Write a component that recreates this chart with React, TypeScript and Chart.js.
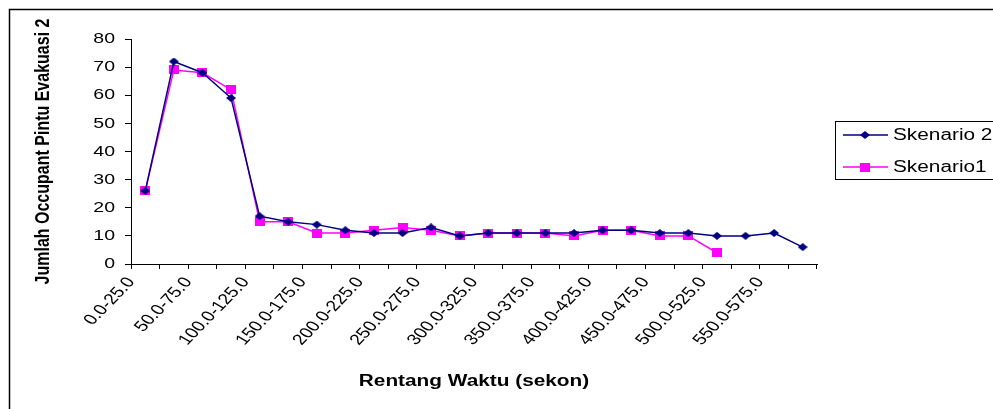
import React, { useEffect, useRef } from "react";
import { Chart, registerables } from "chart.js";

Chart.register(...registerables);

// Time ranges (seconds)
const categories = [
  "0.0-25.0", "25.0-50.0", "50.0-75.0", "75.0-100.0", "100.0-125.0", "125.0-150.0",
  "150.0-175.0", "175.0-200.0", "200.0-225.0", "225.0-250.0", "250.0-275.0", "275.0-300.0",
  "300.0-325.0", "325.0-350.0", "350.0-375.0", "375.0-400.0", "400.0-425.0", "425.0-450.0",
  "450.0-475.0", "475.0-500.0", "500.0-525.0", "525.0-550.0", "550.0-575.0", "575.0-600.0",
];

// Occupants passing exit door 2 per time range
const skenario2 = [26, 72, 68, 59, 17, 15, 14, 12, 11, 11, 13, 10, 11, 11, 11, 11, 12, 12, 11, 11, 10, 10, 11, 6];
const skenario1 = [26, 69, 68, 62, 15, 15, 11, 11, 12, 13, 12, 10, 11, 11, 11, 10, 12, 12, 10, 10, 4, null, null, null];

const yTicks = { min: 0, max: 80, step: 10 };

const FONT = "'Liberation Sans', Arial, Helvetica, sans-serif";
const NAVY = "#000080";
const PINK = "#FF00FF";
// Text is rendered slightly wide, as in the original spreadsheet export
const TEXT_STRETCH = 1.3;

function makeMarker(kind: "diamond" | "square", color: string): HTMLCanvasElement {
  const c = document.createElement("canvas");
  const w = 10;
  const h = kind === "diamond" ? 8 : 9;
  c.width = w;
  c.height = h;
  const g = c.getContext("2d")!;
  g.fillStyle = color;
  g.beginPath();
  if (kind === "diamond") {
    g.moveTo(w / 2, 0);
    g.lineTo(w, h / 2);
    g.lineTo(w / 2, h);
    g.lineTo(0, h / 2);
    g.closePath();
  } else {
    g.rect(0, 0, w, h);
  }
  g.fill();
  return c;
}

// Widen every string drawn on the chart around its anchor point, in screen space
const wideTextPlugin = {
  id: "wideText",
  beforeDraw(chart: any) {
    const ctx: any = chart.ctx;
    if (ctx.__origFillText) return;
    const orig = ctx.fillText;
    ctx.__origFillText = orig;
    ctx.fillText = function (text: string, x: number, y: number, maxWidth?: number) {
      const m: DOMMatrix = this.getTransform();
      const p = m.transformPoint(new DOMPoint(x, y));
      this.save();
      const s = new DOMMatrix()
        .translate(p.x, p.y)
        .scale(TEXT_STRETCH, 1)
        .translate(-p.x, -p.y)
        .multiply(m);
      this.setTransform(s);
      if (maxWidth === undefined) orig.call(this, text, x, y);
      else orig.call(this, text, x, y, maxWidth);
      this.restore();
    };
  },
  afterDraw(chart: any) {
    const ctx: CanvasRenderingContext2D = chart.ctx;
    // outer frame
    ctx.save();
    ctx.strokeStyle = "#000";
    ctx.lineWidth = 1.5;
    ctx.strokeRect(9.5, 9.5, 1200, 1200);

    // boxed legend: line sample, marker, label
    ctx.lineWidth = 1;
    ctx.strokeRect(835.5, 121.5, 300, 58);
    ctx.font = `16px ${FONT}`;
    ctx.textBaseline = "middle";
    ctx.textAlign = "left";
    chart.data.datasets.forEach((ds: any, i: number) => {
      const cy = 135 + i * 32;
      ctx.strokeStyle = ds.borderColor;
      ctx.lineWidth = ds.borderWidth;
      ctx.beginPath();
      ctx.moveTo(843, cy);
      ctx.lineTo(888, cy);
      ctx.stroke();
      const img: HTMLCanvasElement = ds.pointStyle;
      ctx.drawImage(img, 865 - img.width / 2, cy - img.height / 2);
      ctx.fillStyle = "#000";
      ctx.fillText(ds.label, 893, cy + 1);
    });
    ctx.restore();

    const anyCtx: any = ctx;
    if (anyCtx.__origFillText) {
      anyCtx.fillText = anyCtx.__origFillText;
      delete anyCtx.__origFillText;
    }
  },
};

export default function App() {
  const ref = useRef<HTMLCanvasElement | null>(null);

  useEffect(() => {
    if (!ref.current) return;
    const diamond = makeMarker("diamond", NAVY);
    const square = makeMarker("square", PINK);
    const chart = new Chart(ref.current, {
      type: "line",
      data: {
        labels: categories,
        datasets: [
          {
            label: "Skenario 2",
            data: skenario2,
            borderColor: NAVY,
            backgroundColor: NAVY,
            borderWidth: 1.5,
            pointStyle: diamond as any,
            pointRadius: 5,
            tension: 0,
          },
          {
            label: "Skenario1",
            data: skenario1,
            borderColor: PINK,
            backgroundColor: PINK,
            borderWidth: 1.5,
            pointStyle: square as any,
            pointRadius: 5,
            tension: 0,
          },
        ],
      },
      options: {
        responsive: false,
        animation: false,
        layout: { padding: { left: 0, top: 39, right: 176, bottom: 0 } },
        plugins: {
          legend: { display: false },
          tooltip: { enabled: false },
        },
        scales: {
          x: {
            type: "category",
            offset: true,
            grid: {
              offset: true,
              drawOnChartArea: false,
              drawTicks: true,
              tickLength: 5,
              color: "#000",
            },
            border: { color: "#000", width: 1 },
            ticks: {
              autoSkip: false,
              minRotation: 53,
              maxRotation: 53,
              labelOffset: -14,
              padding: 5,
              color: "#000",
              font: { family: FONT, size: 15 },
              callback: function (this: any, value: any, index: number) {
                return index % 2 === 0 ? this.getLabelForValue(value) : "";
              },
            },
            title: {
              display: true,
              text: "Rentang Waktu (sekon)",
              color: "#000",
              font: { family: FONT, size: 16, weight: "bold" },
              padding: { top: 0, bottom: 18 },
            },
            afterFit(scale: any) {
              scale.height = 145;
            },
          },
          y: {
            min: yTicks.min,
            max: yTicks.max,
            grid: {
              drawOnChartArea: false,
              drawTicks: true,
              tickLength: 6,
              color: "#000",
            },
            border: { color: "#000", width: 1 },
            ticks: {
              stepSize: yTicks.step,
              padding: 10,
              color: "#000",
              font: { family: FONT, size: 15 },
            },
            title: {
              display: true,
              text: "Jumlah Occupant Pintu Evakuasi 2",
              color: "#000",
              font: { family: FONT, size: 16, weight: "bold" },
              padding: { top: 34, bottom: 0 },
            },
            afterFit(scale: any) {
              scale.width = 131;
            },
          },
        },
      },
      plugins: [wideTextPlugin],
    });
    return () => chart.destroy();
  }, []);

  return (
    <div style={{ position: "absolute", left: 0, top: 0, width: 993, height: 409, background: "#fff" }}>
      <canvas ref={ref} width={993} height={409} style={{ display: "block" }} />
    </div>
  );
}
